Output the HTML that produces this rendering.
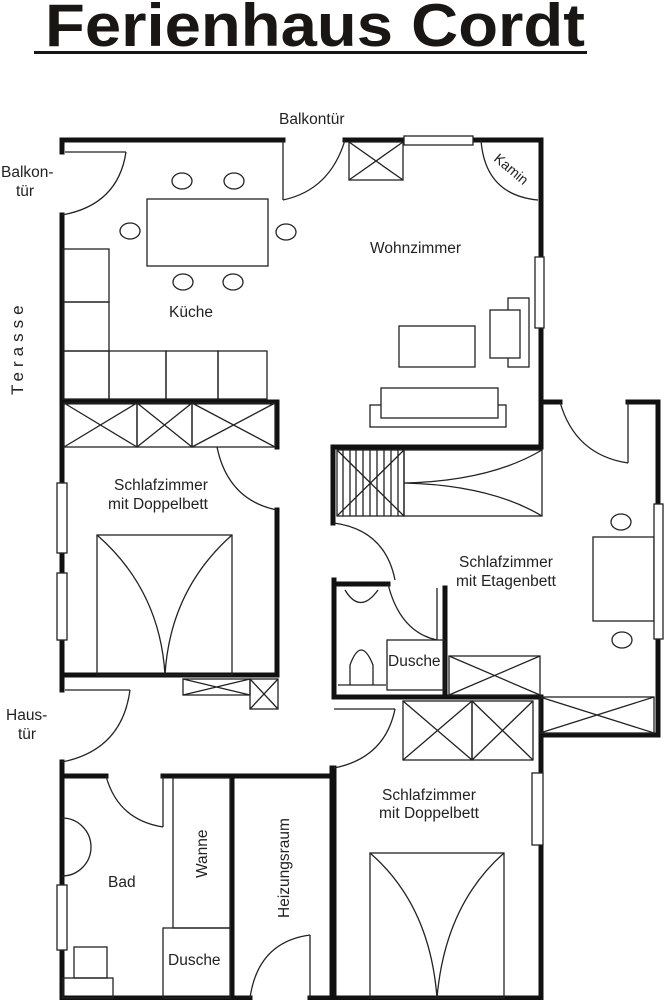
<!DOCTYPE html>
<html><head><meta charset="utf-8"><style>
html,body{margin:0;padding:0;background:#fff;width:664px;height:1000px;overflow:hidden}
svg{display:block}
text{font-family:"Liberation Sans",sans-serif;fill:#222}
</style></head><body>
<svg width="664" height="1000" viewBox="0 0 664 1000" xmlns="http://www.w3.org/2000/svg">
<text x="45" y="46" font-size="60" font-weight="bold" textLength="540" lengthAdjust="spacingAndGlyphs" style="fill:#1a1614">Ferienhaus Cordt</text>
<rect x="34" y="51" width="553" height="3" fill="#1a1614"/>

<g fill="none" stroke="#111" stroke-width="5" stroke-linecap="square">
<polyline points="62,152 62,140 283,140"/>
<line x1="62" y1="215" x2="62" y2="690"/>
<line x1="62" y1="402" x2="277" y2="402"/>
<line x1="277" y1="402" x2="277" y2="447"/>
<polyline points="345,140 541,140 541,447 333,447 333,523"/>
<polyline points="541,402 560,402"/>
<polyline points="628,402 658,402 658,735 541,735 541,697"/>
<line x1="277" y1="510" x2="277" y2="675"/>
<line x1="62" y1="675" x2="277" y2="675"/>
<polyline points="334,580 334,697 541,697 541,998 334,998 334,768"/>
<line x1="334" y1="584" x2="388" y2="584"/>
<line x1="445" y1="588" x2="445" y2="695"/>
<polyline points="62,762 62,998 250,998"/>
<line x1="310" y1="998" x2="334" y2="998"/>
<line x1="62" y1="776" x2="106" y2="776"/>
<line x1="163" y1="776" x2="332" y2="776"/>
<line x1="232" y1="776" x2="232" y2="998"/>
<line x1="332" y1="768" x2="332" y2="998"/>
</g>

<g fill="none" stroke="#222" stroke-width="1.3">
<line x1="65" y1="152" x2="126" y2="152"/><path d="M126,152 Q118,205 62,215"/>
<line x1="283" y1="140" x2="283" y2="200"/><path d="M283,200 Q330,190 345,140"/>
<path d="M560,402 Q575,455 628,463"/><line x1="628" y1="402" x2="628" y2="463"/>
<path d="M217,447 Q228,500 277,510"/>
<path d="M334,523 Q385,530 395,580"/>
<path d="M388,584 Q400,632 437,640"/><line x1="437" y1="588" x2="437" y2="640"/>
<line x1="65" y1="690" x2="130" y2="690"/><path d="M130,690 Q122,750 62,762"/>
<path d="M106,776 Q118,820 163,827"/><line x1="163" y1="776" x2="163" y2="827"/>
<path d="M250,998 Q258,942 310,935"/><line x1="310" y1="935" x2="310" y2="998"/>
<line x1="334" y1="709" x2="395" y2="709"/><path d="M395,709 Q385,758 334,768"/>
<path d="M481,140 Q485,195 538,200"/>
<rect x="147" y="199" width="121" height="67"/>
<ellipse cx="182" cy="181" rx="10" ry="8"/><ellipse cx="234" cy="181" rx="10" ry="8"/>
<ellipse cx="130" cy="231" rx="10" ry="8"/><ellipse cx="286" cy="232" rx="10" ry="8"/>
<ellipse cx="183" cy="282" rx="10" ry="8"/><ellipse cx="233" cy="282" rx="10" ry="8"/>
<rect x="63" y="249" width="46" height="53"/><rect x="63" y="302" width="46" height="49"/>
<rect x="63" y="351" width="46" height="48"/><rect x="109" y="351" width="57" height="48"/>
<rect x="166" y="351" width="52" height="48"/><rect x="218" y="351" width="49" height="48"/>
<rect x="64" y="403" width="73" height="44"/><path d="M64,403 L137,447 M137,403 L64,447"/>
<rect x="137" y="403" width="55" height="44"/><path d="M137,403 L192,447 M192,403 L137,447"/>
<rect x="192" y="403" width="83" height="44"/><path d="M192,403 L275,447 M275,403 L192,447"/>
<rect x="349" y="142" width="54" height="38"/><path d="M349,142 L403,180 M403,142 L349,180"/>
<rect x="399" y="326" width="76" height="41"/>
<rect x="508" y="298" width="21" height="69"/><rect x="490" y="310" width="30" height="48" fill="#fff"/>
<rect x="370" y="405" width="136" height="22"/><rect x="381" y="388" width="117" height="30" fill="#fff"/>
<rect x="337" y="450" width="67" height="66"/>
<path d="M343,450v66M350,450v66M356,450v66M363,450v66M370,450v66M377,450v66M384,450v66M391,450v66M398,450v66"/>
<path d="M337,450 L404,516 M404,450 L337,516"/>
<rect x="404" y="450" width="138" height="66"/>
<path d="M542,450 Q490,481 404,483 M404,483 Q490,485 542,516"/>
<rect x="97" y="535" width="135" height="140"/>
<path d="M97,535 Q160,590 165,675 M232,535 Q170,590 165,675"/>
<rect x="183" y="679" width="67" height="16"/><path d="M183,679 L250,695 M250,679 L183,695"/>
<rect x="250" y="679" width="28" height="30"/><path d="M250,679 L278,709 M278,679 L250,709"/>
<rect x="593" y="537" width="61" height="84"/>
<ellipse cx="621" cy="522" rx="10" ry="8"/><ellipse cx="622" cy="640" rx="10" ry="8"/>
<rect x="449" y="656" width="91" height="39"/><path d="M449,656 L540,695 M540,656 L449,695"/>
<rect x="540" y="697" width="114" height="36"/><path d="M540,697 L654,733 M654,697 L540,733"/>
<path d="M345,590 Q360,615 378,590"/>
<path d="M350,685 L350,665 Q361,635 373,665 L373,685"/>
<line x1="338" y1="685" x2="386" y2="685"/>
<rect x="387" y="640" width="58" height="50"/>
<rect x="403" y="701" width="69" height="59"/><path d="M403,701 L472,760 M472,701 L403,760"/>
<rect x="472" y="701" width="61" height="59"/><path d="M472,701 L533,760 M533,701 L472,760"/>
<rect x="370" y="853" width="134" height="145"/>
<path d="M370,853 Q430,905 437,998 M504,853 Q445,905 437,998"/>
<path d="M62,818 A29,29 0 0 1 62,876"/>
<rect x="74" y="947" width="33" height="31"/><rect x="63" y="978" width="50" height="20"/>
<rect x="173" y="778" width="57" height="150"/>
<rect x="163" y="928" width="67" height="70"/>
</g>

<g fill="#fff" stroke="#222" stroke-width="1.3">
<rect x="404" y="136" width="69" height="9"/>
<rect x="535" y="257" width="9" height="71"/>
<rect x="654" y="504" width="9" height="135"/>
<rect x="57" y="483" width="10" height="70"/>
<rect x="57" y="573" width="10" height="67"/>
<rect x="57" y="885" width="10" height="65"/>
<rect x="532" y="773" width="11" height="72"/>
</g>

<g font-size="15.5">
<text x="279" y="124">Balkontür</text>
<text x="1" y="177">Balkon-</text><text x="16" y="196">tür</text>
<text x="169" y="317">Küche</text>
<text x="370" y="253">Wohnzimmer</text>
<text x="0" y="0" font-size="14" transform="translate(493,160) rotate(40)">Kamin</text>
<text x="0" y="0" font-size="17" letter-spacing="5" transform="translate(23,395) rotate(-90)">Terasse</text>
<text x="114" y="490">Schlafzimmer</text><text x="108" y="509">mit Doppelbett</text>
<text x="459" y="567">Schlafzimmer</text><text x="456" y="586">mit Etagenbett</text>
<text x="388" y="666">Dusche</text>
<text x="6" y="720">Haus-</text><text x="18" y="739">tür</text>
<text x="108" y="887">Bad</text>
<text x="0" y="0" transform="translate(207,878) rotate(-90)">Wanne</text>
<text x="0" y="0" transform="translate(289,918) rotate(-90)">Heizungsraum</text>
<text x="168" y="965">Dusche</text>
<text x="382" y="800">Schlafzimmer</text><text x="379" y="818">mit Doppelbett</text>
</g>
</svg>
</body></html>
